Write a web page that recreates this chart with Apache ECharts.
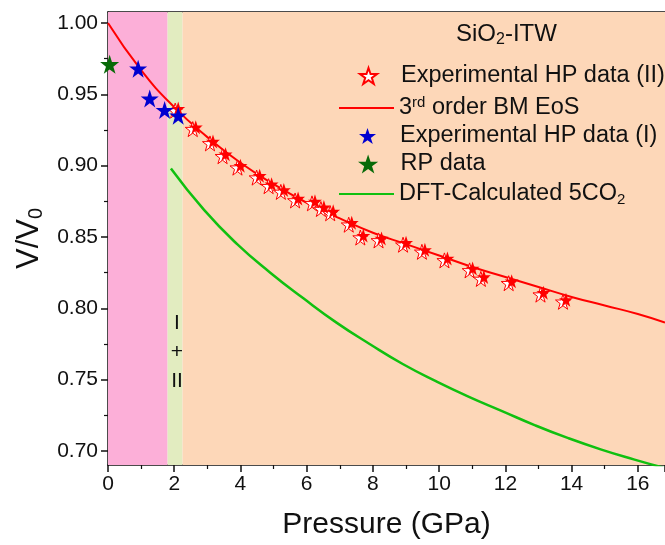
<!DOCTYPE html>
<html><head><meta charset="utf-8">
<script src="https://cdn.jsdelivr.net/npm/echarts@6/dist/echarts.min.js"></script>
<style>html,body{margin:0;padding:0;background:#fff}#c{width:665px;height:545px}</style>
</head><body><div id="c"></div>
<script>
// ---- data ----
const expII_P = [2.12, 2.65, 3.17, 3.55, 4.00, 4.58, 4.94, 5.31, 5.74, 6.25, 6.52, 6.80, 7.36, 7.71, 8.26, 9.00, 9.57, 10.25, 11.01, 11.35, 12.19, 13.15, 13.83];
const expII_V = [0.940, 0.927, 0.917, 0.908, 0.900, 0.893, 0.887, 0.883, 0.877, 0.875, 0.871, 0.868, 0.860, 0.851, 0.849, 0.846, 0.841, 0.835, 0.828, 0.822, 0.819, 0.811, 0.806];
const expI_P = [0.91, 1.26, 1.71, 2.12];
const expI_V = [0.968, 0.947, 0.939, 0.935];
const rp_P = [0.05];
const rp_V = [0.971];
const bm_P = [0, 1, 2, 3, 4, 5, 6, 7, 8, 9, 10, 11, 12, 13, 14, 15, 16, 16.82];
const bm_V = [1.000, 0.967, 0.941, 0.920, 0.902, 0.887, 0.874, 0.863, 0.853, 0.845, 0.837, 0.829, 0.822, 0.815, 0.808, 0.802, 0.796, 0.790];
const dft_P = [1.9, 2.9, 3.9, 4.9, 5.9, 6.9, 7.9, 8.9, 9.9, 10.9, 11.9, 12.9, 13.9, 14.9, 15.9, 16.82];
const dft_V = [0.898, 0.869, 0.845, 0.825, 0.807, 0.790, 0.775, 0.761, 0.749, 0.738, 0.728, 0.718, 0.709, 0.701, 0.694, 0.688];
const regionBounds = [0, 1.8, 2.25, 16.82];
const yTicks = [0.70, 0.75, 0.80, 0.85, 0.90, 0.95, 1.00];
const yMinorTicks = [0.725, 0.775, 0.825, 0.875, 0.925, 0.975];
const xMin = 0, xMax = 16.82, xInterval = 2;
const yMin = 0.6902, yMax = 1.0077;

const zip = (a, b) => a.map((v, i) => [v, b[i]]);
const STAR = 'path://M50,0 L61.8,35.1 L98.9,35.1 L68.9,56.9 L80.3,91.9 L50,70.2 L19.7,91.9 L31.1,56.9 L1.1,35.1 L38.2,35.1 Z';
const FONT = 'Liberation Sans, Arial, sans-serif';
const regionColors = ['#FCAFD8', '#E2ECC0', '#FDD7B8'];

const chart = echarts.init(document.getElementById('c'), null, {renderer: 'canvas'});
const legendBase = {
  orient: 'vertical', itemWidth: 55, padding: 0, symbolKeepAspect: true,
  textStyle: {fontFamily: FONT, fontSize: 23.5, color: '#111',
    rich: {sub: {fontFamily: FONT, fontSize: 15, color: '#111', padding: [11, 0, 0, 0]},
           sup: {fontFamily: FONT, fontSize: 15, color: '#111', padding: [0, 0, 11, 0]}}},
  formatter: n => n === '3rd order BM EoS' ? '3{sup|rd} order BM EoS' : (n === 'DFT-Calculated 5CO2' ? 'DFT-Calculated 5CO{sub|2}' : n),
  selectedMode: false
};
// [name, row centre y, icon, icon height, left]
const legendRows = [
  ['Experimental HP data (II)', 76, STAR, 16, 359],
  ['3rd order BM EoS', 107, 'rect', 2, 339],
  ['Experimental HP data (I)', 136, STAR, 16, 359],
  ['RP data', 164, STAR, 19, 358],
  ['DFT-Calculated 5CO2', 194, 'rect', 2, 339]
];

chart.setOption({
  animation: false,
  backgroundColor: '#fff',
  grid: {left: 108, top: 12, right: 0, bottom: 80, containLabel: false},
  xAxis: [{
    type: 'value', min: xMin, max: xMax, interval: xInterval,
    name: 'Pressure (GPa)', nameLocation: 'middle', nameGap: 45,
    nameTextStyle: {fontFamily: FONT, fontSize: 30, color: '#111'},
    axisLine: {show: true, onZero: false, lineStyle: {color: '#111', width: 1.5}},
    axisTick: {show: true, inside: false, length: 7, lineStyle: {color: '#111', width: 1.5}},
    minorTick: {show: true, splitNumber: 2, length: 4, lineStyle: {color: '#111', width: 1.2}},
    axisLabel: {fontFamily: FONT, fontSize: 21, color: '#111', margin: 9, showMaxLabel: false},
    splitLine: {show: false}
  }, {
    type: 'value', position: 'top', min: xMin, max: xMax,
    axisLine: {show: true, onZero: false, lineStyle: {color: '#111', width: 1.5}},
    axisTick: {show: false}, axisLabel: {show: false}, splitLine: {show: false}
  }],
  yAxis: [{
    type: 'value', min: yMin, max: yMax,
    name: 'V/V{sub|0}', nameLocation: 'middle', nameGap: 62, nameRotate: 90,
    nameTextStyle: {fontFamily: FONT, fontSize: 31, color: '#111',
      rich: {sub: {fontFamily: FONT, fontSize: 20, color: '#111', padding: [14, 0, 0, 0]}}},
    axisLine: {show: true, onZero: false, lineStyle: {color: '#111', width: 1.5}},
    axisTick: {show: true, length: 7, customValues: yTicks, lineStyle: {color: '#111', width: 1.5}},
    axisLabel: {fontFamily: FONT, fontSize: 21, color: '#111', margin: 10, customValues: yTicks,
      formatter: v => v.toFixed(2)},
    splitLine: {show: false}
  }, {
    type: 'value', min: yMin, max: yMax, position: 'left',
    axisLine: {show: false},
    axisTick: {show: true, length: 4, customValues: yMinorTicks, lineStyle: {color: '#111', width: 1.2}},
    axisLabel: {show: false}, splitLine: {show: false}
  }],
  legend: legendRows.map(([n, y, icon, h, l]) => Object.assign({}, legendBase, {
    data: [{name: n, icon: icon}], itemHeight: h, top: y - 12, left: l})),
  graphic: [
    {type: 'text', left: 508 - 52, top: 22, z: 100,
      style: {text: 'SiO{sub|2}-ITW', font: '24px ' + FONT, fill: '#111',
        rich: {sub: {fontFamily: FONT, fontSize: 16, fill: '#111', padding: [12, 0, 0, 0]}}}},
    {type: 'text', x: 177, y: 323, z: 100, style: {text: 'I', font: '21px ' + FONT, fill: '#111', align: 'center', verticalAlign: 'middle'}},
    {type: 'text', x: 177, y: 352, z: 100, style: {text: '+', font: '21px ' + FONT, fill: '#111', align: 'center', verticalAlign: 'middle'}},
    {type: 'text', x: 177, y: 381, z: 100, style: {text: 'II', font: '21px ' + FONT, fill: '#111', align: 'center', verticalAlign: 'middle'}}
  ],
  series: [
    {type: 'scatter', name: 'bg', data: [], silent: true, z: 0,
      markArea: {silent: true, itemStyle: {opacity: 1},
        data: regionColors.map((c, i) => [{xAxis: regionBounds[i], itemStyle: {color: c}}, {xAxis: regionBounds[i + 1]}])}},
    {type: 'line', name: '3rd order BM EoS', data: zip(bm_P, bm_V), smooth: 0.5, symbol: 'none',
      lineStyle: {color: '#FF0000', width: 2}, itemStyle: {color: '#FF0000'}, z: 3},
    {type: 'line', name: 'DFT-Calculated 5CO2', data: zip(dft_P, dft_V), smooth: 0.5, symbol: 'none',
      lineStyle: {color: '#10C010', width: 2.5}, itemStyle: {color: '#10C010'}, z: 3},
    {type: 'scatter', name: 'Experimental HP data (II)', data: zip(expII_P, expII_V), symbol: STAR, symbolSize: 15,
      symbolOffset: [-3, 2], itemStyle: {color: '#FFFFFF', borderColor: '#FF0000', borderWidth: 1, opacity: 1}, z: 4},
    {type: 'scatter', name: 'II-filled', data: zip(expII_P, expII_V), symbol: STAR, symbolSize: 14,
      itemStyle: {color: '#FF0000', opacity: 1}, z: 5},
    {type: 'scatter', name: 'Experimental HP data (I)', data: zip(expI_P, expI_V), symbol: STAR, symbolSize: 18,
      itemStyle: {color: '#0000D0', opacity: 1}, z: 6},
    {type: 'scatter', name: 'RP data', data: zip(rp_P, rp_V), symbol: STAR, symbolSize: 19,
      itemStyle: {color: '#086A08', opacity: 1}, z: 6}
  ]
});
</script></body></html>
